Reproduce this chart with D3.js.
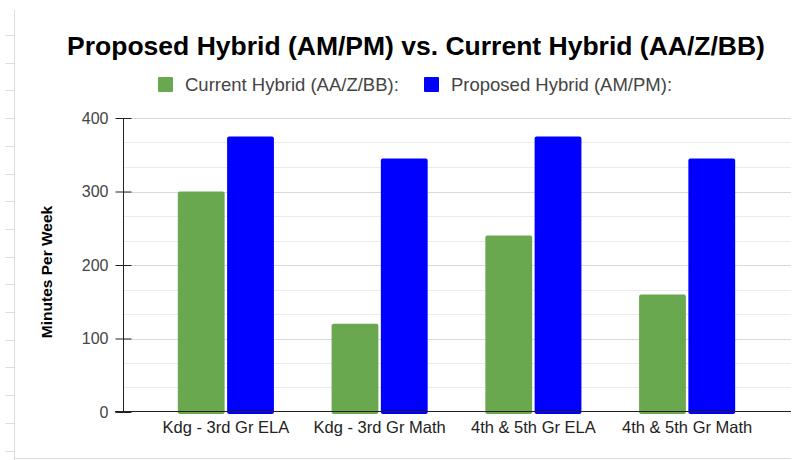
<!DOCTYPE html>
<meta charset="utf-8">
<style>
body { margin: 0; background: #fff; }
text { font-family: "Liberation Sans", Arial, sans-serif; }
</style>
<svg width="807" height="460"></svg>
<script src="https://d3js.org/d3.v7.min.js"></script>
<script>

var categories = ["Kdg - 3rd Gr ELA", "Kdg - 3rd Gr Math", "4th & 5th Gr ELA", "4th & 5th Gr Math"];
var seriesNames = ["Current Hybrid (AA/Z/BB):", "Proposed Hybrid (AM/PM):"];
var currentHybrid = [300, 120, 240, 160];
var proposedHybrid = [375, 345, 375, 345];
var yTicks = [0, 100, 200, 300, 400];
var colors = ["#6aa84f", "#0000ff"];

var svg = d3.select("svg");

// sheet-like frame on the left and bottom
svg.append("line").attr("x1", 14.5).attr("x2", 14.5).attr("y1", 10).attr("y2", 460)
    .attr("stroke", "#ddd");
svg.append("line").attr("x1", 14).attr("x2", 791).attr("y1", 458.5).attr("y2", 458.5)
    .attr("stroke", "#ddd");
d3.range(35, 455, 27.7).forEach(function(y) {
  svg.append("line").attr("x1", 5).attr("x2", 14).attr("y1", Math.round(y) + 0.5).attr("y2", Math.round(y) + 0.5)
      .attr("stroke", "#ddd");
});

var x = d3.scaleBand().domain(categories).range([149, 764])
    .paddingInner(0.375).paddingOuter(0.1875);
var x1 = d3.scaleBand().domain([0, 1]).range([0, x.bandwidth()]).paddingInner(0.05);
var y = d3.scaleLinear().domain([0, 400]).range([412, 118]);

// gridlines
var g = svg.append("g");
g.selectAll("line.minor")
  .data(d3.range(0, 400, 100 / 3).filter(function(d, i) { return i % 3 != 0; }))
  .enter().append("line")
    .attr("x1", 123).attr("x2", 791)
    .attr("y1", function(d) { return Math.round(y(d)) + 0.5; })
    .attr("y2", function(d) { return Math.round(y(d)) + 0.5; })
    .attr("stroke", "#ebebeb");
g.selectAll("line.major")
  .data(yTicks.slice(1))
  .enter().append("line")
    .attr("x1", 123).attr("x2", 791)
    .attr("y1", function(d) { return Math.round(y(d)) + 0.5; })
    .attr("y2", function(d) { return Math.round(y(d)) + 0.5; })
    .attr("stroke", "#d9d9d9");

// bars
var series = [currentHybrid, proposedHybrid];
series.forEach(function(vals, s) {
  svg.append("g").selectAll("rect")
    .data(vals)
    .enter().append("rect")
      .attr("x", function(d, i) { return x(categories[i]) + x1(s); })
      .attr("width", x1.bandwidth())
      .attr("y", function(d) { return y(d); })
      .attr("height", function(d) { return y(0) - y(d) + 2; })
      .attr("rx", 2)
      .attr("fill", colors[s]);
});

// y axis
var yAxis = svg.append("g").attr("transform", "translate(123.5,0)")
    .call(d3.axisLeft(y).tickValues(yTicks).tickSize(8).tickPadding(7));
yAxis.select(".domain").remove();
yAxis.selectAll(".tick line").attr("x2", 8).attr("x1", -8).attr("stroke", "#222");
yAxis.selectAll("text").attr("font-size", 16).attr("fill", "#444")
    .style("font-family", "Liberation Sans, Arial, sans-serif");
svg.append("line").attr("x1", 123.5).attr("x2", 123.5).attr("y1", 118).attr("y2", 412)
    .attr("stroke", "#222");
svg.append("line").attr("x1", 115).attr("x2", 791).attr("y1", 411.5).attr("y2", 411.5)
    .attr("stroke", "#222");

// x labels
svg.append("g").selectAll("text")
  .data(categories)
  .enter().append("text")
    .attr("x", function(d) { return x(d) + x.bandwidth() / 2; })
    .attr("y", 433)
    .attr("text-anchor", "middle")
    .attr("font-size", 16.5)
    .attr("fill", "#222")
    .text(function(d) { return d; });

// y title
svg.append("text")
    .attr("transform", "translate(52,272) rotate(-90)")
    .attr("text-anchor", "middle")
    .attr("font-size", 15.5)
    .attr("font-weight", "bold")
    .attr("fill", "#000")
    .text("Minutes Per Week");

// title
svg.append("text")
    .attr("x", 416).attr("y", 55)
    .attr("text-anchor", "middle")
    .attr("font-size", 26.5)
    .attr("font-weight", "bold")
    .attr("fill", "#000")
    .text("Proposed Hybrid (AM/PM) vs. Current Hybrid (AA/Z/BB)");

// legend
var legendX = [158, 424];
seriesNames.forEach(function(name, i) {
  svg.append("rect").attr("x", legendX[i]).attr("y", 77).attr("width", 15).attr("height", 15)
      .attr("rx", 1).attr("fill", colors[i]);
  svg.append("text").attr("x", legendX[i] + 27).attr("y", 91)
      .attr("font-size", 18.5).attr("fill", "#444").text(name);
});

</script>
